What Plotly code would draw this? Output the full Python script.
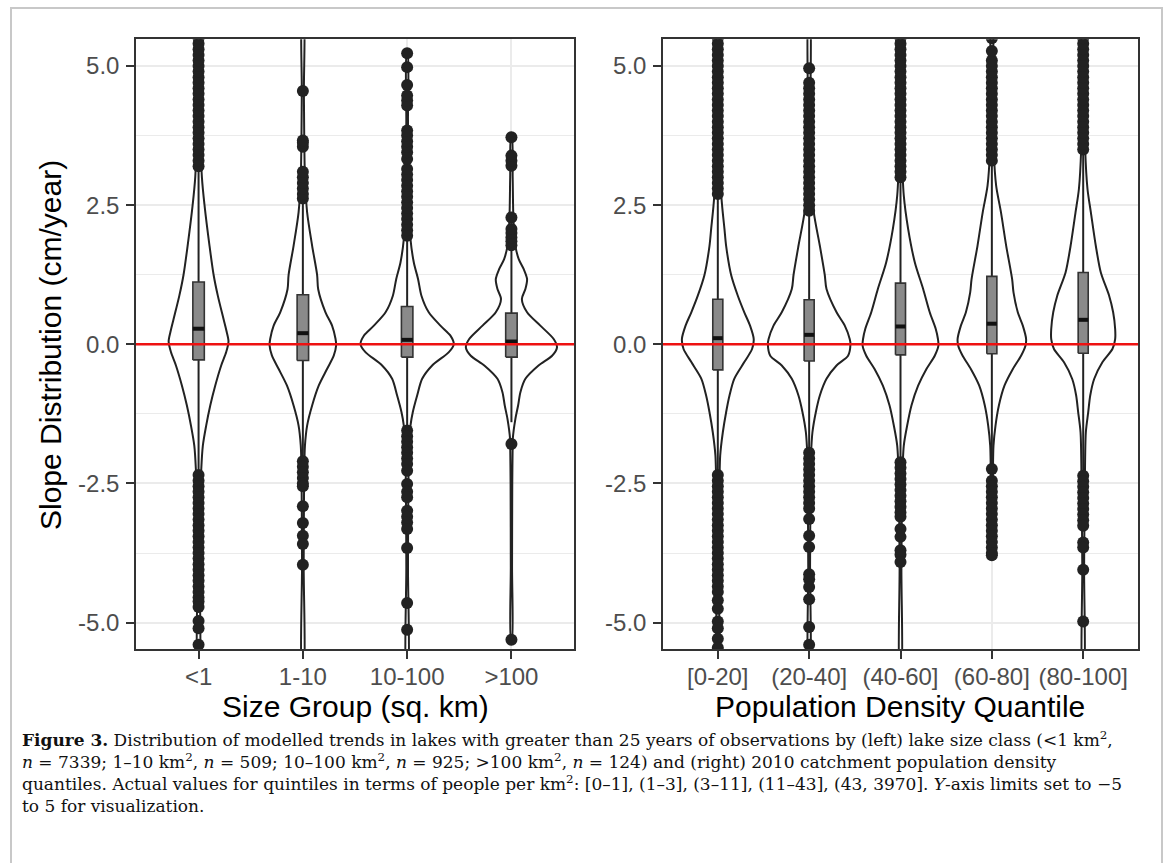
import plotly.graph_objects as go

# ---------------- data ----------------
size_categories = ["<1", "1-10", "10-100", ">100"]
dens_categories = ["[0-20]", "(20-40]", "(40-60]", "(60-80]", "(80-100]"]
y_ticks = [-5, -2.5, 0, 2.5, 5]
y_tick_labels = ["-5.0", "-2.5", "0.0", "2.5", "5.0"]

# box statistics
size_q1 = [-0.28, -0.29, -0.23, -0.23]
size_med = [0.28, 0.20, 0.08, 0.05]
size_q3 = [1.12, 0.89, 0.68, 0.56]
size_lo = [-2.33, -2.07, -1.55, -1.40]
size_hi = [3.15, 2.60, 1.95, 1.75]

dens_q1 = [-0.46, -0.30, -0.19, -0.17, -0.16]
dens_med = [0.11, 0.17, 0.32, 0.37, 0.44]
dens_q3 = [0.81, 0.80, 1.10, 1.22, 1.29]
dens_lo = [-2.35, -1.95, -2.10, -2.20, -2.35]
dens_hi = [2.65, 2.40, 3.00, 3.30, 3.45]

# violin density profiles (y value, half width in category units)
vy_lt1 = [-6.0, -4.0, -3.0, -2.24, -1.82, -1.46, -1.10, -0.74, -0.38, -0.14, 0.05, 0.22, 0.45, 0.87, 1.25, 1.77, 2.5, 3.0, 4.0, 6.0]
vw_lt1 = [0.006, 0.010, 0.015, 0.026, 0.041, 0.073, 0.112, 0.160, 0.217, 0.265, 0.287, 0.270, 0.240, 0.185, 0.144, 0.105, 0.057, 0.032, 0.015, 0.006]
vy_1_10 = [-6.0, -4.0, -3.0, -2.2, -1.82, -1.46, -1.10, -0.74, -0.44, -0.2, -0.02, 0.1, 0.335, 0.575, 0.99, 1.245, 1.77, 2.37, 3.0, 4.5, 6.0]
vw_1_10 = [0.006, 0.008, 0.010, 0.014, 0.020, 0.041, 0.089, 0.153, 0.233, 0.297, 0.319, 0.313, 0.280, 0.217, 0.147, 0.137, 0.089, 0.041, 0.020, 0.010, 0.006]
vy_10_100 = [-6.0, -4.0, -2.5, -1.8, -1.46, -1.22, -0.92, -0.62, -0.38, -0.14, 0.0, 0.155, 0.335, 0.575, 0.873, 1.17, 1.47, 1.89, 2.5, 4.0, 5.23]
vw_10_100 = [0.006, 0.008, 0.012, 0.020, 0.032, 0.054, 0.096, 0.144, 0.240, 0.400, 0.447, 0.415, 0.319, 0.207, 0.137, 0.105, 0.064, 0.032, 0.015, 0.008, 0.004]
vy_gt100 = [-5.31, -4.0, -2.5, -1.79, -1.70, -1.34, -1.10, -0.86, -0.62, -0.38, -0.205, -0.054, 0.095, 0.335, 0.575, 0.814, 0.993, 1.17, 1.35, 1.53, 1.77, 2.2, 3.0, 3.72]
vw_gt100 = [0.004, 0.006, 0.008, 0.012, 0.013, 0.038, 0.064, 0.086, 0.134, 0.260, 0.390, 0.437, 0.405, 0.277, 0.150, 0.100, 0.134, 0.150, 0.118, 0.070, 0.038, 0.020, 0.012, 0.004]

vy_0_20 = [-6.0, -4.0, -3.0, -2.0, -1.58, -1.22, -0.92, -0.62, -0.32, -0.085, 0.095, 0.335, 0.575, 0.873, 1.245, 1.77, 2.07, 2.49, 3.0, 4.0, 6.0]
vw_0_20 = [0.006, 0.010, 0.015, 0.026, 0.055, 0.091, 0.128, 0.180, 0.290, 0.375, 0.393, 0.353, 0.290, 0.219, 0.146, 0.091, 0.073, 0.047, 0.025, 0.012, 0.006]
vy_20_40 = [-6.0, -4.0, -2.5, -2.0, -1.58, -1.22, -0.92, -0.62, -0.38, -0.205, 0.005, 0.095, 0.335, 0.575, 0.993, 1.245, 1.77, 2.37, 3.0, 4.0, 6.0]
vw_20_40 = [0.006, 0.010, 0.015, 0.020, 0.036, 0.073, 0.117, 0.190, 0.300, 0.426, 0.452, 0.444, 0.390, 0.300, 0.190, 0.171, 0.117, 0.051, 0.025, 0.012, 0.006]
vy_40_60 = [-6.0, -4.0, -2.5, -1.82, -1.46, -1.10, -0.744, -0.444, -0.205, -0.025, 0.095, 0.275, 0.575, 0.993, 1.47, 2.07, 2.67, 3.5, 6.0]
vw_40_60 = [0.006, 0.010, 0.018, 0.036, 0.073, 0.120, 0.193, 0.284, 0.375, 0.415, 0.410, 0.386, 0.320, 0.248, 0.157, 0.084, 0.036, 0.015, 0.006]
vy_60_80 = [-3.8, -3.0, -2.3, -1.82, -1.46, -1.10, -0.744, -0.444, -0.205, -0.025, 0.095, 0.335, 0.575, 0.933, 1.17, 1.77, 2.37, 2.85, 3.5, 4.5, 6.0]
vw_60_80 = [0.004, 0.008, 0.012, 0.018, 0.040, 0.077, 0.138, 0.230, 0.320, 0.368, 0.375, 0.339, 0.284, 0.237, 0.222, 0.157, 0.100, 0.047, 0.020, 0.010, 0.006]
vy_80_100 = [-6.0, -4.0, -2.5, -1.58, -1.22, -0.92, -0.623, -0.324, -0.085, 0.095, 0.275, 0.575, 0.873, 1.29, 1.77, 2.37, 2.79, 3.5, 6.0]
vw_80_100 = [0.006, 0.010, 0.018, 0.029, 0.055, 0.077, 0.120, 0.210, 0.320, 0.350, 0.350, 0.328, 0.284, 0.193, 0.138, 0.084, 0.047, 0.022, 0.006]

# outliers
out_lt1 = [3.2, 3.3, 3.4, 3.5, 3.6, 3.7, 3.8, 3.9, 4.0, 4.1, 4.2, 4.3, 4.4, 4.5, 4.6, 4.7, 4.8, 4.9, 5.0, 5.1, 5.2, 5.3, 5.4, 5.5, 5.6, 5.9,
           -2.35, -2.45, -2.55, -2.65, -2.75, -2.85, -2.95, -3.05, -3.15, -3.25, -3.35, -3.45, -3.55, -3.65, -3.75, -3.85, -3.95,
           -4.05, -4.15, -4.25, -4.35, -4.45, -4.55, -4.62, -4.72, -4.97, -5.1, -5.4, -5.8]
out_1_10 = [2.62, 2.7, 2.8, 2.9, 3.0, 3.1, 3.55, 3.62, 3.66, 4.55,
            -2.1, -2.2, -2.3, -2.4, -2.5, -2.55, -2.91, -3.21, -3.44, -3.59, -3.96]
out_10_100 = [1.95, 2.05, 2.15, 2.25, 2.35, 2.45, 2.55, 2.65, 2.75, 2.85, 2.95, 3.05, 3.15, 3.33, 3.45, 3.55, 3.65, 3.75, 3.84,
              4.29, 4.38, 4.47, 4.66, 4.98, 5.23,
              -1.55, -1.65, -1.75, -1.85, -1.95, -2.05, -2.15, -2.27, -2.51, -2.65, -2.75, -2.99, -3.1, -3.2, -3.32, -3.66, -4.65, -5.13]
out_gt100 = [1.78, 1.85, 1.92, 2.0, 2.07, 2.28, 3.21, 3.3, 3.39, 3.72, -1.79, -5.31]

out_0_20 = [2.7, 2.8, 2.9, 3.0, 3.1, 3.2, 3.3, 3.4, 3.5, 3.6, 3.7, 3.8, 3.9, 4.0, 4.1, 4.2, 4.3, 4.4, 4.5, 4.6, 4.7, 4.8, 4.9,
            5.0, 5.1, 5.2, 5.3, 5.4, 5.5, 5.6, 5.9,
            -2.35, -2.45, -2.55, -2.65, -2.75, -2.85, -2.95, -3.05, -3.15, -3.25, -3.35, -3.45, -3.55, -3.65, -3.75, -3.85,
            -3.95, -4.05, -4.15, -4.25, -4.35, -4.45, -4.6, -4.75, -4.98, -5.1, -5.29, -5.45, -5.9]
out_20_40 = [2.4, 2.5, 2.6, 2.7, 2.8, 2.9, 3.0, 3.1, 3.2, 3.3, 3.4, 3.5, 3.6, 3.7, 3.8, 3.9, 4.0, 4.1, 4.2, 4.3, 4.4, 4.5,
             4.6, 4.7, 4.96,
             -1.95, -2.05, -2.15, -2.25, -2.35, -2.45, -2.55, -2.65, -2.75, -2.85, -2.95, -3.14, -3.44, -3.64, -4.13,
             -4.22, -4.36, -4.58, -5.08, -5.40]
out_40_60 = [3.0, 3.1, 3.2, 3.3, 3.4, 3.5, 3.6, 3.7, 3.8, 3.9, 4.0, 4.1, 4.2, 4.3, 4.4, 4.5, 4.6, 4.7, 4.8, 4.9, 5.0, 5.1,
             5.2, 5.3, 5.4, 5.5, 5.6,
             -2.12, -2.22, -2.32, -2.42, -2.52, -2.62, -2.72, -2.82, -2.92, -3.02, -3.1, -3.32, -3.46, -3.7, -3.78, -3.91]
out_60_80 = [3.3, 3.4, 3.5, 3.6, 3.7, 3.8, 3.9, 4.0, 4.1, 4.2, 4.3, 4.4, 4.5, 4.6, 4.7, 4.8, 4.9, 5.0, 5.1, 5.27, 5.5,
             -2.24, -2.45, -2.55, -2.65, -2.75, -2.85, -2.95, -3.05, -3.15, -3.25, -3.35, -3.45, -3.55, -3.65, -3.75, -3.79]
out_80_100 = [3.5, 3.6, 3.7, 3.8, 3.9, 4.0, 4.1, 4.2, 4.3, 4.4, 4.5, 4.6, 4.7, 4.8, 4.9, 5.0, 5.1, 5.2, 5.3, 5.4, 5.5, 5.6,
              -2.36, -2.46, -2.56, -2.66, -2.76, -2.86, -2.96, -3.06, -3.16, -3.26, -3.56, -3.65, -4.05, -4.98]

size_violins = [(vy_lt1, vw_lt1), (vy_1_10, vw_1_10), (vy_10_100, vw_10_100), (vy_gt100, vw_gt100)]
dens_violins = [(vy_0_20, vw_0_20), (vy_20_40, vw_20_40), (vy_40_60, vw_40_60), (vy_60_80, vw_60_80), (vy_80_100, vw_80_100)]
size_outliers = [out_lt1, out_1_10, out_10_100, out_gt100]
dens_outliers = [out_0_20, out_20_40, out_40_60, out_60_80, out_80_100]

caption_lines = [
    "<b>Figure 3.</b> Distribution of modelled trends in lakes with greater than 25 years of observations by (left) lake size class (&lt;1 km<sup>2</sup>,",
    "<i>n</i> = 7339; 1–10 km<sup>2</sup>, <i>n</i> = 509; 10–100 km<sup>2</sup>, <i>n</i> = 925; &gt;100 km<sup>2</sup>, <i>n</i> = 124) and (right) 2010 catchment population density",
    "quantiles. Actual values for quintiles in terms of people per km<sup>2</sup>: [0–1], (1–3], (3–11], (11–43], (43, 3970]. <i>Y</i>-axis limits set to −5",
    "to 5 for visualization.",
]

# ---------------- styling ----------------
W, H = 1170, 863
INK = "#222222"
BOX_FILL = "#8a8a8a"
BOX_HALF = 0.055
GRID = "#ebebeb"
SANS = "Liberation Sans, Arial, Helvetica, sans-serif"
SERIF = "DejaVu Serif, Liberation Serif, serif"

fig = go.Figure()


def add_panel(xa, ya, violins, q1, med, q3, lo, hi, outliers):
    for i, (vy, vw) in enumerate(violins):
        c = i + 1
        xs = [c + w for w in vw] + [c - w for w in reversed(vw)]
        ys = list(vy) + list(reversed(vy))
        fig.add_trace(go.Scatter(x=xs + [xs[0]], y=ys + [ys[0]], mode="lines", fill="toself",
                                 fillcolor="white", line=dict(color=INK, width=2, shape="spline", smoothing=0.8),
                                 xaxis=xa, yaxis=ya, hoverinfo="skip"))
        # whiskers
        fig.add_trace(go.Scatter(x=[c, c, None, c, c], y=[lo[i], q1[i], None, q3[i], hi[i]], mode="lines",
                                 line=dict(color=INK, width=2), xaxis=xa, yaxis=ya, hoverinfo="skip"))
        # box
        fig.add_trace(go.Scatter(x=[c - BOX_HALF, c + BOX_HALF, c + BOX_HALF, c - BOX_HALF, c - BOX_HALF],
                                 y=[q1[i], q1[i], q3[i], q3[i], q1[i]], mode="lines", fill="toself",
                                 fillcolor=BOX_FILL, line=dict(color="#333333", width=1.6),
                                 xaxis=xa, yaxis=ya, hoverinfo="skip"))
        # median
        fig.add_trace(go.Scatter(x=[c - BOX_HALF, c + BOX_HALF], y=[med[i], med[i]], mode="lines",
                                 line=dict(color="#111111", width=4), xaxis=xa, yaxis=ya, hoverinfo="skip"))
        # outliers
        fig.add_trace(go.Scatter(x=[c] * len(outliers[i]), y=outliers[i], mode="markers",
                                 marker=dict(color=INK, size=12, line=dict(width=0)),
                                 xaxis=xa, yaxis=ya, hoverinfo="skip"))


add_panel("x", "y", size_violins, size_q1, size_med, size_q3, size_lo, size_hi, size_outliers)
add_panel("x2", "y2", dens_violins, dens_q1, dens_med, dens_q3, dens_lo, dens_hi, dens_outliers)

y_dom = [1 - 649.3 / H, 1 - 39.3 / H]
axis_common = dict(showline=True, mirror=True, linecolor="#333333", linewidth=1.5,
                   ticks="outside", ticklen=8, tickwidth=1.5, tickcolor="#333333",
                   tickfont=dict(family=SANS, size=24, color="#4d4d4d"),
                   showgrid=True, gridcolor=GRID, gridwidth=2, zeroline=False)
minor_grid = dict(tickvals=[-3.75, -1.25, 1.25, 3.75], showgrid=True, gridcolor=GRID, gridwidth=1.3, ticks="")

fig.update_layout(
    width=W, height=H, margin=dict(l=0, r=0, t=0, b=0),
    paper_bgcolor="white", plot_bgcolor="white", showlegend=False,
    xaxis=dict(domain=[136 / W, 574 / W], range=[0.4, 4.6], tickvals=list(range(1, len(size_categories) + 1)),
               ticktext=size_categories, anchor="y", ticklabelstandoff=-3, **axis_common),
    xaxis2=dict(domain=[663 / W, 1138 / W], range=[0.4, 5.6], tickvals=list(range(1, len(dens_categories) + 1)),
                ticktext=dens_categories, anchor="y2", ticklabelstandoff=-3, **axis_common),
    yaxis=dict(domain=y_dom, range=[-5.48, 5.48], tickvals=y_ticks, ticktext=y_tick_labels, anchor="x",
               minor=minor_grid, ticklabelstandoff=2, **axis_common),
    yaxis2=dict(domain=y_dom, range=[-5.48, 5.48], tickvals=y_ticks, ticktext=y_tick_labels, anchor="x2",
                minor=minor_grid, ticklabelstandoff=2, **axis_common),
)

# red zero lines
for xr, yr in (("x domain", "y"), ("x2 domain", "y2")):
    fig.add_shape(type="line", xref=xr, yref=yr, x0=0, x1=1, y0=0, y1=0,
                  line=dict(color="#ee1111", width=2.5), layer="above")

# outer frame
fig.add_shape(type="rect", xref="paper", yref="paper", x0=11 / W, x1=1162 / W, y0=-0.05, y1=1 - 8 / H,
              line=dict(color="#c8c8c8", width=2), fillcolor="rgba(0,0,0,0)", layer="below")

# axis titles
fig.add_annotation(text="Slope Distribution (cm/year)", x=51 / W, y=1 - 345 / H, xref="paper", yref="paper",
                   textangle=-90, showarrow=False, xanchor="center", yanchor="middle",
                   font=dict(family=SANS, size=30, color="black"))
fig.add_annotation(text="Size Group (sq. km)", x=355 / W, y=1 - 706 / H, xref="paper", yref="paper",
                   showarrow=False, xanchor="center", yanchor="middle", font=dict(family=SANS, size=30, color="black"))
fig.add_annotation(text="Population Density Quantile", x=900 / W, y=1 - 706 / H, xref="paper", yref="paper",
                   showarrow=False, xanchor="center", yanchor="middle", font=dict(family=SANS, size=30, color="black"))

# caption (one multi-line text block)
fig.add_annotation(text="<br>".join(caption_lines), x=20 / W, y=1 - 772 / H, xref="paper", yref="paper",
                   showarrow=False, xanchor="left", yanchor="middle", align="left",
                   font=dict(family=SERIF, size=17, color="#111111"))

fig.write_html("out.html", config={"displayModeBar": False},
               post_script="document.body.style.margin='0';document.body.style.overflow='hidden';")
